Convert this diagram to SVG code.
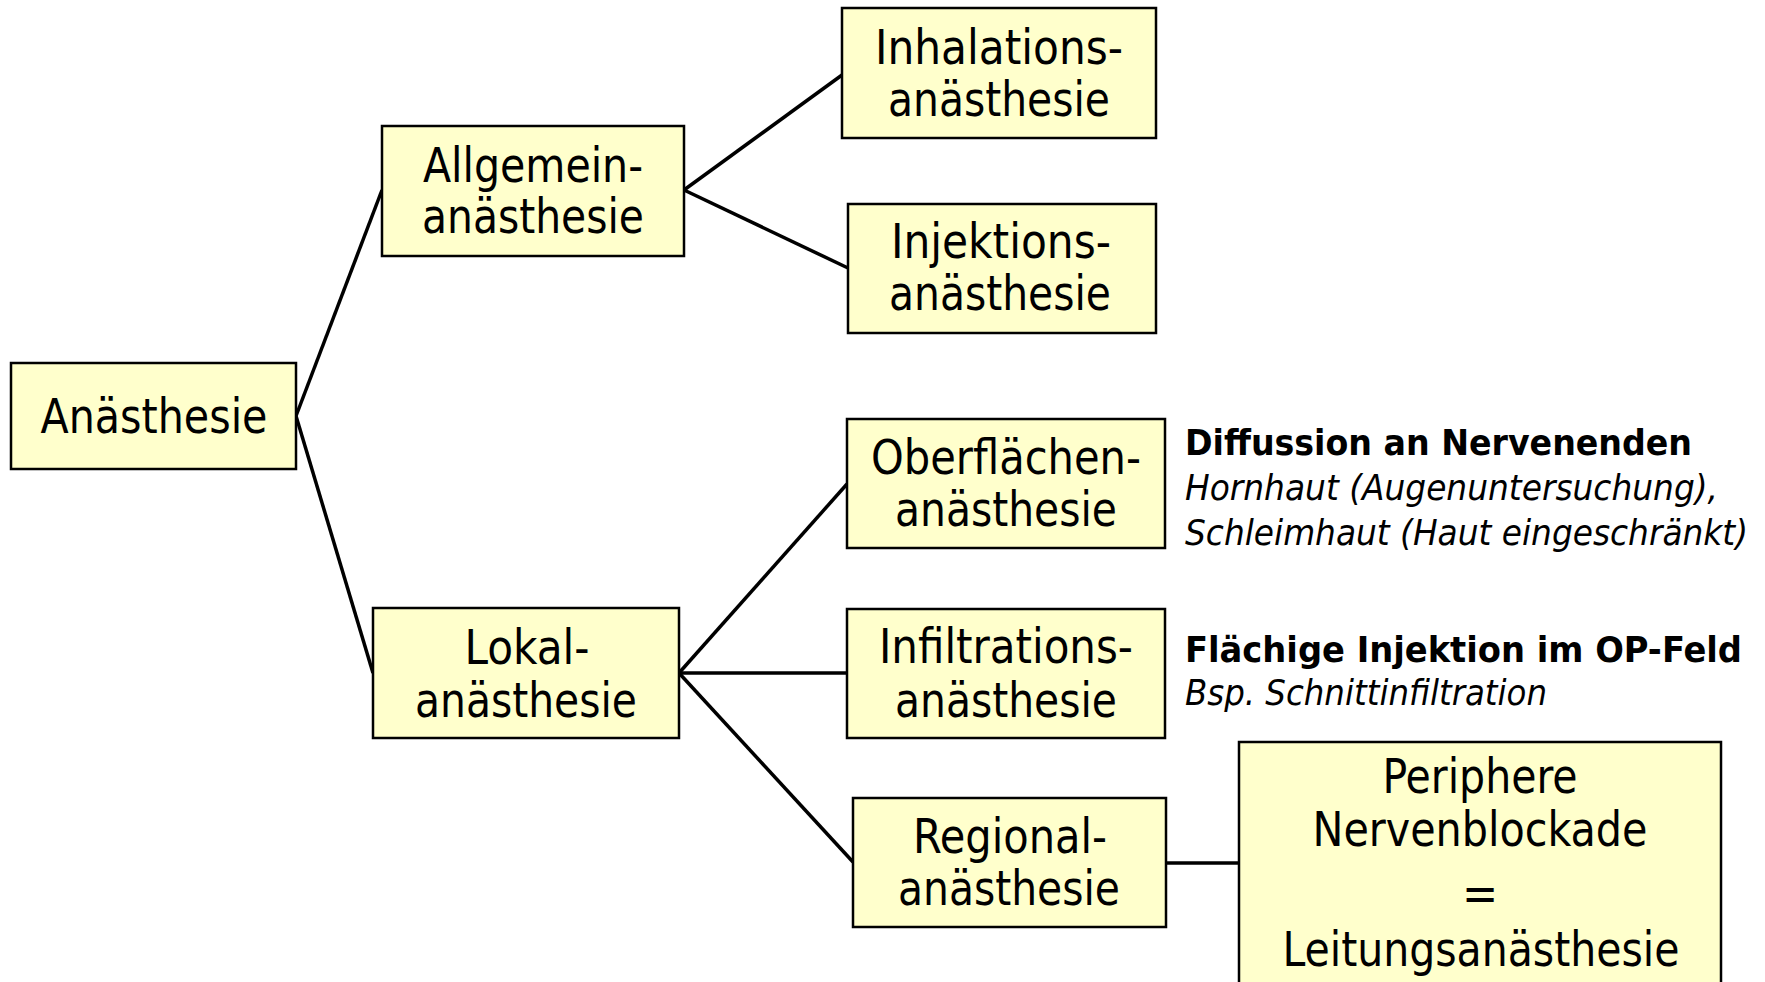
<svg xmlns="http://www.w3.org/2000/svg" width="1765" height="982" viewBox="0 0 1765 982">
<style>
.box{fill:#FFFFCC;stroke:#000;stroke-width:2.5}
.t{font-family:"DejaVu Sans Condensed","DejaVu Sans",sans-serif;font-size:48px;fill:#000;text-anchor:middle}
.b{font-family:"DejaVu Sans Condensed","DejaVu Sans",sans-serif;font-size:35px;font-weight:bold;fill:#000}
.i{font-family:"DejaVu Sans Condensed","DejaVu Sans",sans-serif;font-size:35px;font-style:italic;fill:#000}
.c{stroke:#000;stroke-width:3.5;fill:none}
</style>
<rect width="1765" height="982" fill="#fff"/>
<g id="connectors">
<line class="c" x1="296" y1="416" x2="382" y2="190"/>
<line class="c" x1="296" y1="416" x2="373" y2="673"/>
<line class="c" x1="684" y1="190" x2="842" y2="75"/>
<line class="c" x1="684" y1="190" x2="848" y2="268"/>
<line class="c" x1="679" y1="673" x2="847" y2="484"/>
<line class="c" x1="679" y1="673" x2="847" y2="673"/>
<line class="c" x1="679" y1="673" x2="853" y2="862"/>
<line class="c" x1="1166" y1="863" x2="1239" y2="863"/>
</g>
<g id="anaesthesie">
<rect class="box" x="11" y="363" width="285" height="106"/>
<text class="t" x="154" y="433" textLength="227" lengthAdjust="spacingAndGlyphs">Anästhesie</text>
</g>
<g id="allgemein">
<rect class="box" x="382" y="126" width="302" height="130"/>
<text class="t" x="533" y="182" textLength="220" lengthAdjust="spacingAndGlyphs">Allgemein-</text>
<text class="t" x="533" y="233" textLength="222" lengthAdjust="spacingAndGlyphs">anästhesie</text>
</g>
<g id="inhalation">
<rect class="box" x="842" y="8" width="314" height="130"/>
<text class="t" x="999" y="64" textLength="248" lengthAdjust="spacingAndGlyphs">Inhalations-</text>
<text class="t" x="999" y="116" textLength="222" lengthAdjust="spacingAndGlyphs">anästhesie</text>
</g>
<g id="injektion">
<rect class="box" x="848" y="204" width="308" height="129"/>
<text class="t" x="1001" y="258" textLength="220" lengthAdjust="spacingAndGlyphs">Injektions-</text>
<text class="t" x="1000" y="310" textLength="222" lengthAdjust="spacingAndGlyphs">anästhesie</text>
</g>
<g id="lokal">
<rect class="box" x="373" y="608" width="306" height="130"/>
<text class="t" x="527" y="664" textLength="125" lengthAdjust="spacingAndGlyphs">Lokal-</text>
<text class="t" x="526" y="717" textLength="222" lengthAdjust="spacingAndGlyphs">anästhesie</text>
</g>
<g id="oberflaechen">
<rect class="box" x="847" y="419" width="318" height="129"/>
<text class="t" x="1006" y="474" textLength="270" lengthAdjust="spacingAndGlyphs">Oberflächen-</text>
<text class="t" x="1006" y="526" textLength="222" lengthAdjust="spacingAndGlyphs">anästhesie</text>
</g>
<g id="infiltration">
<rect class="box" x="847" y="609" width="318" height="129"/>
<text class="t" x="1006" y="663" textLength="254" lengthAdjust="spacingAndGlyphs">Infiltrations-</text>
<text class="t" x="1006" y="717" textLength="222" lengthAdjust="spacingAndGlyphs">anästhesie</text>
</g>
<g id="regional">
<rect class="box" x="853" y="798" width="313" height="129"/>
<text class="t" x="1010" y="853" textLength="194" lengthAdjust="spacingAndGlyphs">Regional-</text>
<text class="t" x="1009" y="905" textLength="222" lengthAdjust="spacingAndGlyphs">anästhesie</text>
</g>
<g id="peripher">
<rect class="box" x="1239" y="742" width="482" height="270"/>
<text class="t" x="1480" y="793" textLength="195" lengthAdjust="spacingAndGlyphs">Periphere</text>
<text class="t" x="1480" y="846" textLength="335" lengthAdjust="spacingAndGlyphs">Nervenblockade</text>
<text class="t" x="1480" y="910">=</text>
<text class="t" x="1481" y="966" textLength="397" lengthAdjust="spacingAndGlyphs">Leitungsanästhesie</text>
</g>
<g id="note-oberflaechen">
<text class="b" x="1185" y="455" textLength="507" lengthAdjust="spacingAndGlyphs">Diffussion an Nervenenden</text>
<text class="i" x="1185" y="500" textLength="533" lengthAdjust="spacingAndGlyphs">Hornhaut (Augenuntersuchung),</text>
<text class="i" x="1185" y="545" textLength="563" lengthAdjust="spacingAndGlyphs">Schleimhaut (Haut eingeschränkt)</text>
</g>
<g id="note-infiltration">
<text class="b" x="1185" y="662" textLength="557" lengthAdjust="spacingAndGlyphs">Flächige Injektion im OP-Feld</text>
<text class="i" x="1185" y="705" textLength="362" lengthAdjust="spacingAndGlyphs">Bsp. Schnittinfiltration</text>
</g>
</svg>
